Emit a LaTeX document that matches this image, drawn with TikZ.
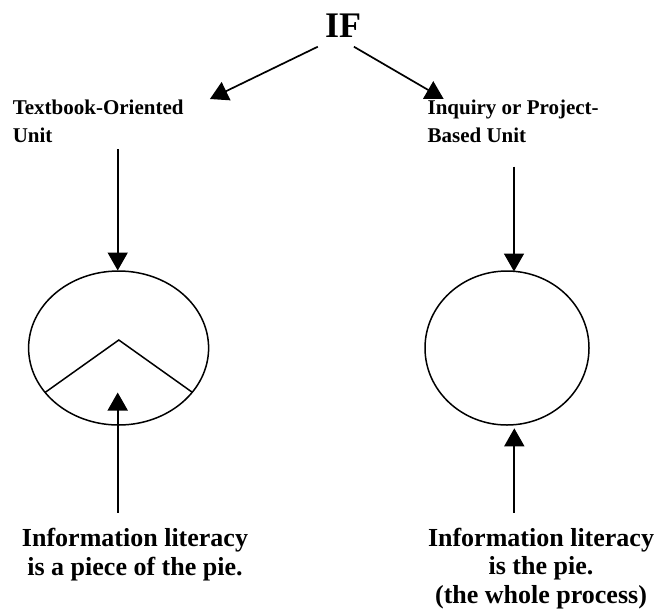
\documentclass[tikz,border=0pt]{standalone}
\usepackage{fontspec}
\setmainfont{Liberation Serif}
\usetikzlibrary{arrows.meta,shapes.geometric}
\begin{document}
\begin{tikzpicture}[x=1pt,y=-1pt,
  lbl/.style={inner sep=0pt,font=\bfseries\fontsize{21}{28.5}\selectfont,align=left,anchor=base west},
  note/.style={inner sep=0pt,font=\bfseries\fontsize{26}{28.6}\selectfont,align=center,anchor=base},
  pie/.style={draw,ellipse,line width=1.5pt,inner sep=0pt},
  conn/.style={line width=1.7pt,-{Triangle[length=18pt,width=20pt]}}]
\useasboundingbox (0,0) rectangle (655,611);
\node[inner sep=0pt,anchor=base,font=\bfseries\fontsize{36}{40}\selectfont] (if) at (343,37.3) {IF};
\node[lbl] (tb) at (12.6,142.5) {Textbook-Oriented\\Unit};
\node[lbl] (iq) at (427.4,142.5) {Inquiry or Project-\\Based Unit};
\node[pie,minimum width=180pt,minimum height=154pt] (pieL) at (118.6,348) {};
\node[pie,minimum width=164pt,minimum height=154pt] (pieR) at (507,348) {};
\node[note] (nl) at (135,575.1) {Information literacy\\is a piece of the pie.};
\node[note] (nr) at (541,603.2) {Information literacy\\is the pie.\\(the whole process)};
% free ends
\coordinate (ifL) at (317.8,46.7);
\coordinate (ifR) at (353.9,46.7);
\coordinate (tbT) at (209.9,99);
\coordinate (iqT) at (443.7,99);
\coordinate (dL0) at (117.7,149.3);
\coordinate (dL1) at (117.7,270.5);
\coordinate (dR0) at (514,166.7);
\coordinate (dR1) at (514,271.5);
\coordinate (uL0) at (117.7,512.7);
\coordinate (uL1) at (117.7,392.5);
\coordinate (uR0) at (514.3,512.7);
\coordinate (uR1) at (514.3,428.3);
\coordinate (chA) at (118.8,340);
\coordinate (chL) at (45.3,392.3);
\coordinate (chR) at (192.3,392.3);
\draw[conn] (ifL) -- (tbT);
\draw[conn] (ifR) -- (iqT);
\draw[conn] (dL0) -- (dL1);
\draw[conn] (dR0) -- (dR1);
\draw[conn] (uL0) -- (uL1);
\draw[conn] (uR0) -- (uR1);
\draw[line width=1.5pt] (chL) -- (chA) -- (chR);
\end{tikzpicture}
\end{document}
